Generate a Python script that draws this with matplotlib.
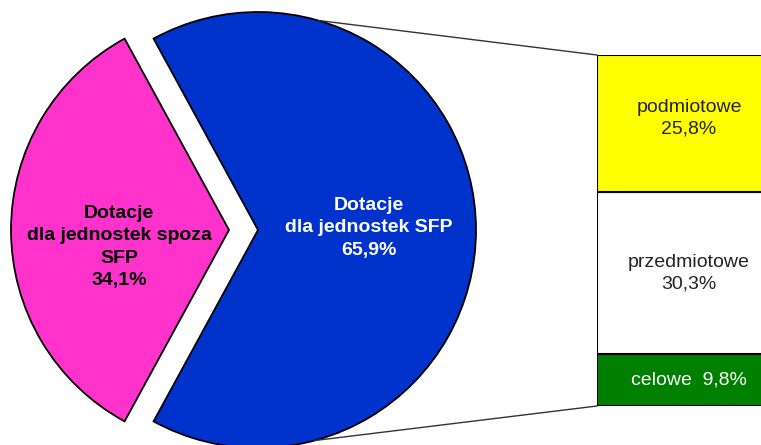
import numpy as np
import matplotlib.pyplot as plt
from matplotlib.patches import ConnectionPatch

plt.rcParams['font.family'] = ['Liberation Sans', 'DejaVu Sans']

# pie: share of subsidies
pie_labels = ['Dotacje\ndla jednostek SFP\n65,9%',
              'Dotacje\ndla jednostek spoza\nSFP\n34,1%']
pie_values = [65.9, 34.1]
pie_colors = ['#0033CC', '#FF33CC']
pie_text_colors = ['white', 'black']

# bar: split of the SFP part (bottom -> top)
bar_labels = ['celowe  9,8%', 'przedmiotowe\n30,3%', 'podmiotowe\n25,8%']
bar_values = [9.8, 30.3, 25.8]
bar_colors = ['#008000', '#FFFFFF', '#FFFF00']
bar_text_colors = ['white', '#222222', '#222222']

W, H = 761, 445
fig = plt.figure(figsize=(W / 100, H / 100), dpi=100)
ax = fig.add_axes([0, 0, 1, 1])

cx, cy, r = 258, 215, 218
start = -360 * pie_values[0] / sum(pie_values) / 2
wedges, _ = ax.pie(pie_values, colors=pie_colors, center=(cx, cy), radius=r,
                   explode=[0, 29], startangle=start, counterclock=True,
                   wedgeprops=dict(edgecolor='black', linewidth=1.3))
ax.set_xlim(0, W)
ax.set_ylim(0, H)
ax.set_aspect('equal')
ax.axis('off')

ax.text(369, 217, pie_labels[0], color=pie_text_colors[0], ha='center',
        va='center', fontsize=14, fontweight='bold', linespacing=1.4)
ax.text(119, 198, pie_labels[1], color=pie_text_colors[1], ha='center',
        va='center', fontsize=14, fontweight='bold', linespacing=1.4)

# stacked bar
ax2 = fig.add_axes([597 / W, 39 / H, 184 / W, 351 / H])
bottom = 0
for i, (v, c, lab, tc) in enumerate(zip(bar_values, bar_colors, bar_labels, bar_text_colors)):
    ax2.bar(0, v, bottom=bottom, width=1, color=c, edgecolor='black', linewidth=1.5)
    ty = bottom + v / 2 + (1.0 if i == 2 else 0)
    ax2.text(0, ty, lab, ha='center', va='center', color=tc,
             fontsize=14, linespacing=1.3)
    bottom += v
ax2.set_xlim(-0.5, 0.5)
ax2.set_ylim(0, sum(bar_values))
ax2.axis('off')

# connector lines
for ang, yb in [(74, 1), (-75, 0)]:
    a = np.deg2rad(ang)
    con = ConnectionPatch(xyA=(cx + r * np.cos(a), cy + r * np.sin(a)), coordsA=ax.transData,
                          xyB=(0, yb), coordsB=ax2.transAxes, color='#333333', linewidth=1)
    fig.add_artist(con)

fig.savefig('out.png', dpi=100)
